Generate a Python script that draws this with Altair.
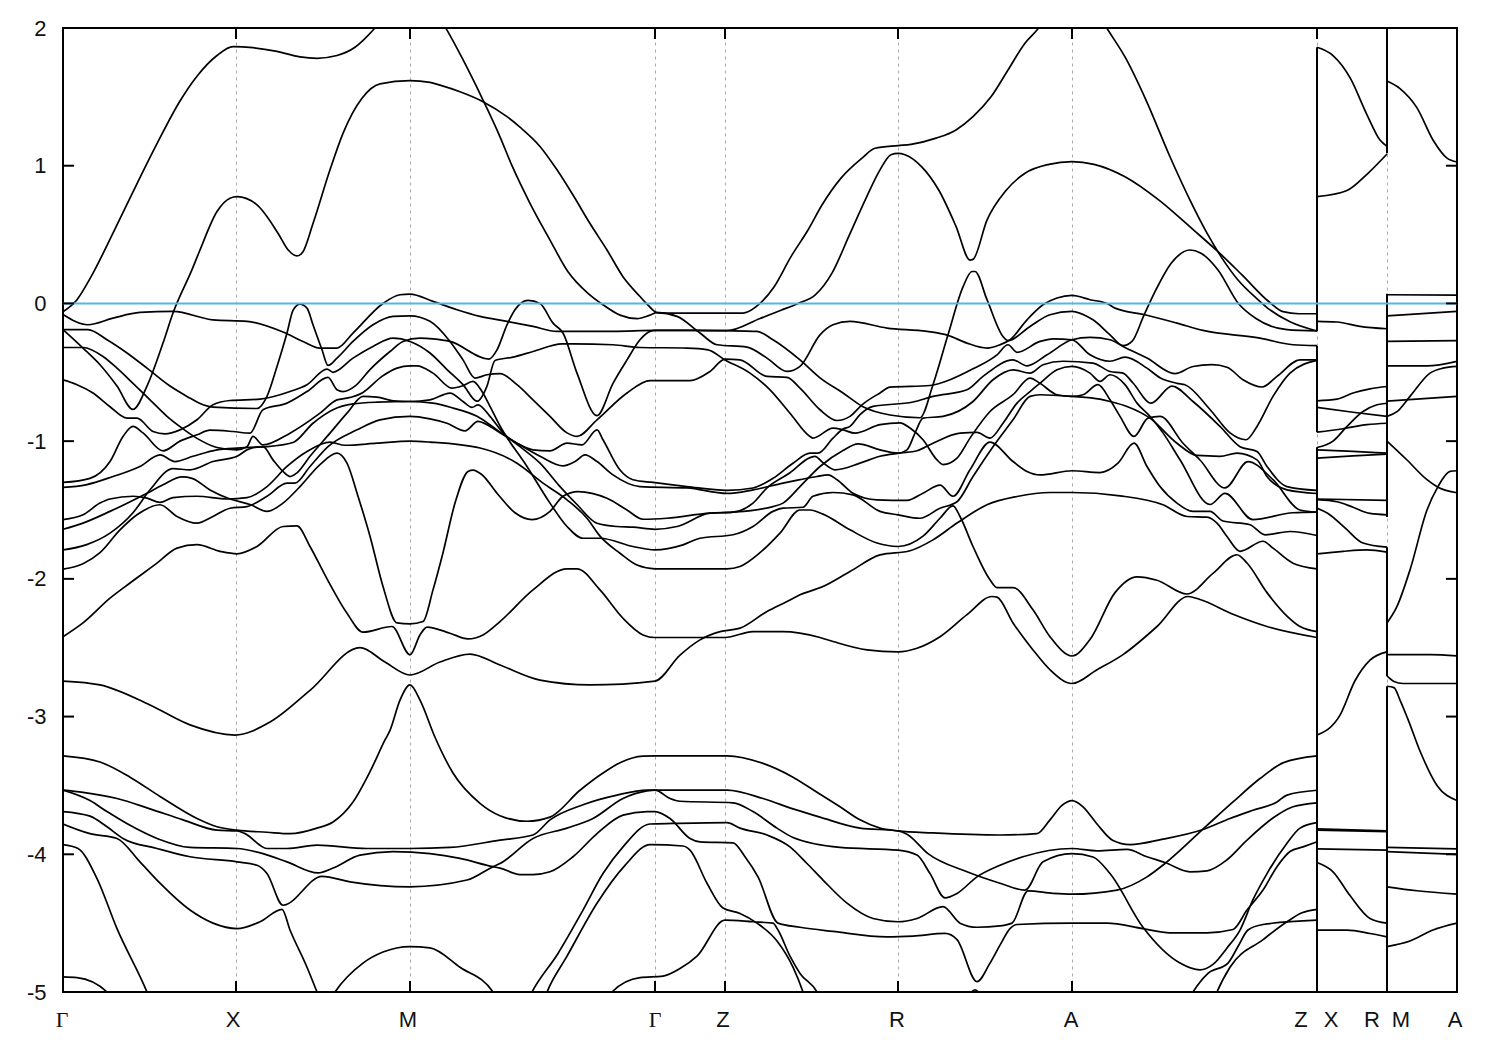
import altair as alt
import pandas as pd

# k = distance along the path, E = energy
band_a = [(0,-.06),(14,.027),(27,.18),(50,.51),(70,.81),(94,1.16),(117,1.47),(134,1.65),(154,1.80),(170,1.865),(190,1.857),(214,1.83),(237,1.79),(254,1.78),(274,1.80),(292,1.86),(312,2.0),(347,2.35),(384,1.985),(400,1.77),(420,1.477),(437,1.21),(449,1.0),(467,.727),(487,.46),(505,.23),(525,.073),(540,-.01),(557,-.085),(574,-.11),(587,-.085),(594,-.067),(614,-.094),(637,-.215),(654,-.30),(684,-.317),(704,-.397),(724,-.494),(737,-.457),(757,-.228),(770,-.155),(787,-.131),(824,-.179),(864,-.203),(885,-.232),(904,-.288),(924,-.324),(937,-.30),(947,-.264),(964,-.119),(980,-.01),(994,.039),(1009,.058),(1027,.027),(1044,0),(1052,-.034),(1082,-.082),(1114,-.143),(1140,-.196),(1197,-.252),(1230,-.30),(1254,-.307)]
band_b = [(0,-.19),(20,-.324),(37,-.445),(54,-.60),(70,-.77),(84,-.60),(100,-.288),(110,-.07),(129,.245),(137,.388),(154,.667),(167,.764),(174,.775),(194,.716),(215,.51),(225,.39),(234,.345),(240,.376),(250,.58),(267,.97),(280,1.235),(299,1.49),(317,1.594),(347,1.618),(367,1.605),(377,1.585),(397,1.537),(420,1.465),(444,1.356),(457,1.28),(477,1.14),(494,.97),(510,.787),(527,.58),(544,.388),(560,.194),(577,.05),(585,-.012),(594,-.067),(604,-.07),(680,-.07),(697,0),(711,.12),(728,.34),(745,.533),(759,.715),(778,.91),(799,1.055),(812,1.127),(835,1.146),(848,1.155),(873,1.2),(893,1.26),(910,1.356),(928,1.5),(945,1.695),(962,1.89),(974,1.985),(1009,2.4),(1045,1.985),(1062,1.79),(1083,1.477),(1107,1.065),(1127,.75),(1144,.51),(1158,.34),(1175,.17),(1193,.04),(1204,-.03),(1227,-.133),(1254,-.20)]
band_c = [(0,-.08),(25,-.155),(50,-.107),(77,-.065),(110,-.058),(150,-.119),(184,-.13),(220,-.208),(240,-.276),(257,-.324),(274,-.324),(290,-.215),(320,0),(337,.063),(347,.068),(370,.015),(394,-.046),(417,-.094),(444,-.13),(470,-.167),(494,-.203),(550,-.203),(592,-.196),(630,-.196),(664,-.198),(697,-.11),(718,-.05),(735,0),(752,.06),(769,.22),(786,.49),(804,.78),(817,.97),(828,1.08),(835,1.09),(842,1.08),(859,.99),(876,.82),(893,.56),(907,.315),(910,.32),(924,.605),(943,.82),(962,.945),(986,1.01),(1009,1.03),(1031,1.01),(1062,.92),(1096,.75),(1131,.53),(1155,.376),(1179,.207),(1206,.012),(1220,-.06),(1236,-.075),(1254,-.075)]
band_d = [(0,-.19),(25,-.19),(44,-.264),(64,-.36),(84,-.47),(107,-.60),(124,-.675),(140,-.736),(150,-.753),(194,-.763),(204,-.675),(214,-.458),(224,-.215),(230,-.05),(237,-.005),(244,-.034),(250,-.155),(259,-.336),(265,-.45),(274,-.397),(290,-.276),(310,-.155),(330,-.094),(347,-.09),(367,-.13),(387,-.276),(400,-.41),(412,-.542),(424,-.518),(437,-.51),(454,-.59),(470,-.70),(487,-.82),(504,-.94),(514,-.966),(534,-.845),(564,-.65),(587,-.56),(627,-.56),(647,-.494),(662,-.404),(677,-.41),(704,-.53),(724,-.537),(737,-.615),(757,-.772),(774,-.85),(787,-.82),(799,-.736),(817,-.65),(827,-.608),(867,-.596),(887,-.554),(910,-.475),(934,-.373),(945,-.30),(954,-.355),(977,-.276),(990,-.257),(1009,-.264),(1027,-.373),(1047,-.42),(1062,-.39),(1084,-.47),(1097,-.54),(1114,-.58),(1122,-.59),(1147,-.77),(1167,-.94),(1183,-.99),(1194,-.893),(1210,-.675),(1227,-.506),(1254,-.414)]
band_e = [(0,-.32),(20,-.32),(40,-.385),(54,-.47),(70,-.58),(87,-.70),(104,-.82),(117,-.895),(134,-.98),(154,-1.046),(174,-1.063),(184,-1.04),(190,-.966),(200,-1.027),(227,-.942),(257,-.797),(274,-.70),(284,-.688),(300,-.646),(319,-.53),(334,-.47),(347,-.453),(354,-.453),(370,-.506),(389,-.615),(399,-.60),(410,-.566),(419,-.64),(427,-.748),(437,-.89),(464,-1.184),(487,-1.45),(504,-1.62),(520,-1.705),(537,-1.705),(570,-1.765),(592,-1.79),(620,-1.753),(637,-1.705),(670,-1.68),(690,-1.62),(710,-1.51),(720,-1.487),(740,-1.48),(750,-1.40),(770,-1.373),(790,-1.39),(817,-1.51),(835,-1.535),(857,-1.56),(877,-1.487),(894,-1.44),(910,-1.257),(930,-1.04),(950,-.845),(967,-.675),(977,-.663),(1009,-.675),(1037,-.695),(1047,-.712),(1064,-.748),(1087,-.833),(1114,-1.015),(1134,-1.104),(1157,-1.11),(1174,-1.087),(1194,-1.136),(1204,-1.257),(1224,-1.354),(1254,-1.38)]
band_f = [(0,-.555),(14,-.59),(30,-.65),(47,-.75),(64,-.833),(74,-.833),(90,-.93),(102,-.947),(117,-.918),(134,-.845),(150,-.736),(167,-.705),(197,-.695),(227,-.64),(244,-.59),(264,-.477),(270,-.50),(290,-.397),(310,-.312),(330,-.252),(347,-.276),(367,-.36),(384,-.48),(400,-.59),(414,-.71),(424,-.60),(432,-.414),(450,-.39),(470,-.349),(499,-.293),(510,-.293),(550,-.30),(577,-.32),(624,-.324),(645,-.337),(662,-.41),(687,-.506),(707,-.627),(727,-.797),(747,-.966),(750,-.978),(770,-.906),(780,-.918),(792,-.942),(817,-.88),(837,-.867),(847,-.905),(860,-.99),(874,-1.136),(880,-1.17),(894,-1.123),(907,-.978),(927,-.785),(950,-.663),(967,-.542),(977,-.58),(994,-.663),(1009,-.675),(1020,-.663),(1035,-.59),(1047,-.70),(1057,-.82),(1071,-.966),(1085,-.833),(1097,-.82),(1120,-1.015),(1137,-1.137),(1162,-1.34),(1185,-1.148),(1210,-1.28),(1237,-1.50),(1254,-1.516)]
band_g = [(0,-1.30),(27,-1.27),(47,-1.148),(60,-.966),(70,-.893),(80,-.94),(100,-1.07),(117,-1.0),(134,-.954),(147,-.92),(170,-.93),(187,-.942),(200,-.772),(224,-.724),(244,-.64),(265,-.537),(274,-.627),(280,-.64),(292,-.60),(307,-.48),(327,-.349),(340,-.276),(357,-.252),(370,-.257),(387,-.276),(426,-.404),(434,-.337),(444,-.155),(452,-.046),(465,.022),(477,0),(490,-.143),(500,-.215),(514,-.506),(534,-.814),(550,-.58),(564,-.41),(577,-.264),(587,-.203),(592,-.196),(630,-.196),(664,-.198),(694,-.203),(710,-.264),(737,-.41),(757,-.54),(780,-.65),(800,-.75),(827,-.81),(857,-.83),(870,-.59),(885,-.228),(900,.12),(909,.232),(912,.232),(924,.027),(940,-.24),(945,-.27),(967,-.167),(987,-.082),(1009,-.058),(1027,-.106),(1030,-.119),(1047,-.228),(1060,-.307),(1069,-.276),(1081,-.085),(1093,.1),(1108,.29),(1127,.388),(1138,.364),(1155,.243),(1175,.003),(1193,-.11),(1224,-.19),(1254,-.20)]
band_h = [(0,-1.336),(23,-1.317),(50,-1.257),(77,-1.184),(97,-1.10),(112,-1.148),(130,-1.11),(154,-1.063),(174,-1.05),(184,-1.046),(204,-1.04),(230,-1.01),(250,-.87),(270,-.772),(290,-.73),(314,-.717),(347,-.712),(370,-.724),(390,-.76),(414,-.82),(434,-.918),(454,-1.015),(470,-1.063),(487,-1.07),(504,-1.015),(519,-1.027),(534,-.918),(540,-.99),(557,-1.21),(570,-1.28),(590,-1.30),(624,-1.33),(664,-1.358),(690,-1.34),(710,-1.27),(730,-1.16),(747,-1.087),(755,-1.087),(770,-.978),(780,-.912),(787,-.893),(797,-.808),(810,-.748),(850,-.716),(870,-.675),(904,-.627),(920,-.53),(950,-.41),(964,-.453),(984,-.373),(1009,-.264),(1027,-.247),(1047,-.264),(1060,-.312),(1084,-.397),(1112,-.51),(1130,-.458),(1149,-.445),(1164,-.463),(1180,-.554),(1199,-.607),(1214,-.53),(1237,-.41),(1254,-.41)]
band_i = [(0,-1.79),(23,-1.753),(47,-1.668),(70,-1.52),(87,-1.353),(110,-1.20),(127,-1.208),(150,-1.148),(174,-1.11),(185,-1.06),(200,-1.04),(210,-1.136),(220,-1.22),(227,-1.257),(234,-1.23),(247,-1.11),(267,-.942),(284,-.797),(300,-.675),(314,-.68),(330,-.707),(347,-.712),(367,-.70),(387,-.651),(400,-.712),(409,-.755),(415,-.736),(427,-.82),(440,-.94),(457,-1.04),(477,-1.16),(497,-1.33),(514,-1.46),(534,-1.596),(554,-1.62),(570,-1.625),(592,-1.64),(614,-1.62),(647,-1.523),(670,-1.516),(710,-1.475),(720,-1.45),(737,-1.33),(757,-1.184),(780,-1.068),(795,-1.02),(817,-1.063),(835,-1.087),(844,-1.063),(852,-.942),(860,-.833),(880,-.82),(910,-.712),(930,-.554),(950,-.482),(967,-.506),(980,-.445),(1000,-.42),(1030,-.433),(1047,-.494),(1060,-.506),(1070,-.578),(1088,-.724),(1109,-.60),(1130,-.712),(1157,-.893),(1177,-1.04),(1194,-1.075),(1204,-1.184),(1224,-1.33),(1254,-1.358)]
band_j = [(0,-1.64),(20,-1.595),(47,-1.51),(84,-1.378),(100,-1.317),(119,-1.26),(129,-1.27),(147,-1.354),(167,-1.42),(187,-1.46),(204,-1.51),(220,-1.45),(237,-1.33),(257,-1.17),(274,-1.087),(284,-1.16),(295,-1.40),(307,-1.69),(320,-2.055),(334,-2.32),(347,-2.327),(360,-2.31),(370,-2.08),(380,-1.81),(392,-1.45),(405,-1.22),(410,-1.21),(419,-1.244),(434,-1.378),(452,-1.52),(469,-1.57),(487,-1.51),(500,-1.40),(515,-1.366),(544,-1.415),(564,-1.50),(580,-1.567),(604,-1.56),(647,-1.523),(670,-1.516),(690,-1.45),(704,-1.34),(727,-1.23),(747,-1.12),(752,-1.11),(760,-1.157),(772,-1.208),(797,-1.16),(817,-1.11),(837,-1.087),(854,-1.07),(870,-1.015),(897,-.942),(914,-.937),(927,-.978),(940,-.87),(954,-.724),(967,-.64),(977,-.58),(994,-.482),(1009,-.457),(1027,-.506),(1037,-.566),(1047,-.518),(1062,-.59),(1074,-.724),(1087,-.82),(1100,-.94),(1117,-1.135),(1147,-1.46),(1162,-1.38),(1190,-1.57),(1230,-1.52),(1254,-1.516)]
band_k = [(0,-1.57),(20,-1.535),(37,-1.45),(47,-1.42),(70,-1.40),(84,-1.414),(97,-1.445),(110,-1.41),(134,-1.40),(164,-1.42),(184,-1.41),(204,-1.33),(224,-1.184),(244,-1.075),(267,-1.007),(282,-1.03),(314,-1.015),(347,-1.0),(367,-1.007),(417,-1.05),(454,-1.16),(480,-1.305),(504,-1.426),(524,-1.56),(537,-1.69),(557,-1.814),(574,-1.90),(592,-1.927),(664,-1.927),(677,-1.91),(697,-1.81),(717,-1.668),(737,-1.50),(747,-1.50),(760,-1.53),(787,-1.644),(814,-1.74),(835,-1.765),(860,-1.69),(877,-1.56),(890,-1.47),(897,-1.547),(910,-1.765),(927,-2.007),(934,-2.063),(950,-2.063),(970,-2.225),(987,-2.42),(1009,-2.56),(1027,-2.44),(1052,-2.10),(1074,-1.985),(1094,-2.01),(1124,-2.11),(1150,-1.96),(1174,-1.825),(1184,-1.885),(1204,-2.10),(1224,-2.27),(1237,-2.346),(1254,-2.383)]
band_l = [(0,-1.93),(20,-1.89),(37,-1.81),(57,-1.645),(74,-1.535),(97,-1.462),(114,-1.547),(134,-1.596),(150,-1.547),(167,-1.487),(184,-1.475),(204,-1.40),(224,-1.305),(232,-1.305),(247,-1.184),(265,-1.04),(294,-.918),(317,-.845),(347,-.82),(367,-.838),(384,-.87),(402,-.925),(415,-.857),(424,-.88),(437,-.94),(454,-1.015),(477,-1.11),(500,-1.18),(512,-1.148),(522,-1.10),(534,-1.148),(550,-1.245),(577,-1.33),(624,-1.34),(664,-1.38),(690,-1.354),(720,-1.305),(737,-1.28),(754,-1.257),(765,-1.245),(774,-1.28),(790,-1.378),(814,-1.426),(844,-1.43),(860,-1.378),(877,-1.32),(890,-1.40),(907,-1.208),(927,-1.007),(950,-1.148),(964,-1.22),(977,-1.245),(1009,-1.215),(1037,-1.228),(1055,-1.16),(1071,-1.015),(1084,-1.184),(1097,-1.33),(1114,-1.45),(1130,-1.51),(1147,-1.51),(1160,-1.58),(1187,-1.607),(1202,-1.68),(1227,-1.656),(1254,-1.685)]
band_m = [(0,-2.42),(20,-2.32),(47,-2.14),(67,-2.03),(94,-1.886),(114,-1.777),(134,-1.752),(157,-1.80),(174,-1.818),(194,-1.765),(220,-1.62),(234,-1.615),(247,-1.765),(264,-2.0),(284,-2.25),(300,-2.387),(329,-2.346),(347,-2.552),(357,-2.407),(364,-2.35),(387,-2.395),(405,-2.436),(420,-2.407),(437,-2.31),(470,-2.08),(504,-1.927),(514,-1.927),(537,-2.08),(560,-2.286),(580,-2.407),(592,-2.426),(637,-2.426),(662,-2.426),(690,-2.383),(720,-2.383),(757,-2.426),(770,-2.455),(804,-2.516),(835,-2.53),(854,-2.504),(877,-2.42),(904,-2.26),(929,-2.128),(934,-2.133),(950,-2.32),(970,-2.516),(987,-2.66),(1009,-2.76),(1034,-2.66),(1060,-2.55),(1094,-2.346),(1125,-2.128),(1137,-2.15),(1170,-2.257),(1204,-2.346),(1254,-2.426)]
band_n = [(0,-2.742),(37,-2.77),(87,-2.916),(127,-3.06),(172,-3.134),(207,-3.04),(247,-2.81),(297,-2.50),(322,-2.604),(347,-2.698),(377,-2.604),(407,-2.546),(437,-2.626),(477,-2.735),(527,-2.77),(592,-2.742),(617,-2.554),(637,-2.443),(657,-2.383),(677,-2.358),(704,-2.237),(724,-2.165),(737,-2.116),(760,-2.056),(787,-1.947),(817,-1.826),(847,-1.796),(870,-1.717),(894,-1.595),(924,-1.462),(954,-1.402),(987,-1.373),(1009,-1.373),(1057,-1.397),(1100,-1.462),(1124,-1.547),(1144,-1.552),(1154,-1.596),(1164,-1.693),(1177,-1.80),(1200,-1.727),(1210,-1.777),(1230,-1.886),(1254,-1.927)]
band_o = [(0,-3.285),(37,-3.33),(67,-3.44),(97,-3.58),(134,-3.74),(154,-3.80),(174,-3.825),(204,-3.84),(227,-3.85),(254,-3.81),(270,-3.765),(290,-3.62),(307,-3.40),(322,-3.17),(327,-3.10),(337,-2.88),(347,-2.77),(357,-2.88),(372,-3.15),(390,-3.41),(417,-3.63),(437,-3.72),(464,-3.76),(487,-3.73),(517,-3.535),(540,-3.41),(557,-3.335),(580,-3.287),(592,-3.285),(664,-3.285),(700,-3.34),(730,-3.44),(754,-3.55),(777,-3.655),(797,-3.75),(817,-3.81),(835,-3.83),(870,-3.845),(937,-3.86),(974,-3.85),(987,-3.75),(999,-3.645),(1009,-3.61),(1020,-3.655),(1034,-3.78),(1050,-3.90),(1067,-3.93),(1100,-3.89),(1140,-3.82),(1167,-3.74),(1190,-3.68),(1214,-3.62),(1224,-3.57),(1254,-3.535)]
band_p = [(0,-3.534),(20,-3.55),(54,-3.595),(87,-3.67),(120,-3.75),(154,-3.825),(174,-3.83),(182,-3.85),(204,-3.958),(224,-3.958),(254,-3.934),(304,-3.958),(347,-3.958),(387,-3.95),(437,-3.897),(470,-3.86),(487,-3.75),(520,-3.64),(554,-3.57),(584,-3.534),(592,-3.534),(664,-3.534),(700,-3.595),(730,-3.67),(757,-3.73),(797,-3.81),(835,-3.83),(844,-3.854),(865,-3.995),(904,-4.127),(937,-4.21),(962,-4.26),(980,-4.055),(1009,-3.995),(1030,-4.02),(1047,-4.14),(1080,-4.53),(1117,-4.79),(1137,-4.84),(1150,-4.80),(1164,-4.68),(1177,-4.55),(1190,-4.33),(1204,-4.14),(1224,-3.92),(1237,-3.81),(1254,-3.77)]
band_q = [(0,-3.534),(27,-3.61),(44,-3.69),(67,-3.79),(94,-3.885),(127,-3.95),(174,-3.958),(200,-3.995),(224,-4.055),(255,-4.135),(270,-4.10),(297,-4.006),(330,-3.98),(367,-3.995),(397,-4.03),(430,-4.09),(437,-4.10),(457,-4.147),(470,-4.147),(487,-4.127),(510,-4.018),(534,-3.85),(560,-3.716),(584,-3.69),(592,-3.69),(607,-3.74),(627,-3.885),(637,-3.91),(670,-3.917),(682,-4.018),(695,-4.164),(715,-4.50),(737,-4.53),(770,-4.56),(824,-4.60),(850,-4.594),(882,-4.575),(894,-4.62),(914,-4.925),(927,-4.79),(937,-4.66),(947,-4.54),(954,-4.51),(1009,-4.50),(1044,-4.50),(1080,-4.54),(1107,-4.57),(1144,-4.57),(1170,-4.546),(1184,-4.405),(1200,-4.26),(1214,-4.09),(1227,-3.98),(1240,-3.946),(1254,-3.91)]
band_r = [(0,-3.69),(27,-3.723),(44,-3.80),(60,-3.885),(94,-3.958),(127,-4.018),(174,-4.055),(194,-4.08),(204,-4.14),(220,-4.37),(259,-4.16),(287,-4.2),(347,-4.236),(404,-4.187),(430,-4.09),(437,-4.067),(470,-3.885),(504,-3.81),(530,-3.74),(560,-3.595),(584,-3.54),(592,-3.534),(607,-3.595),(617,-3.615),(670,-3.626),(690,-3.69),(714,-3.81),(730,-3.878),(777,-3.95),(835,-3.97),(854,-4.006),(867,-4.14),(882,-4.316),(894,-4.284),(914,-4.164),(937,-4.08),(960,-4.018),(1009,-3.958),(1034,-3.975),(1064,-3.965),(1084,-4.018),(1102,-4.06),(1127,-4.127),(1144,-4.12),(1164,-4.04),(1184,-3.897),(1214,-3.716),(1230,-3.655),(1254,-3.626)]
band_s = [(0,-3.78),(27,-3.85),(54,-3.885),(77,-4.055),(97,-4.21),(127,-4.405),(150,-4.50),(174,-4.54),(197,-4.49),(219,-4.40),(227,-4.55),(244,-4.82),(254,-5.0),(270,-5.3)]
band_t = [(0,-3.93),(15,-3.958),(34,-4.176),(54,-4.54),(84,-5.0),(100,-5.3)]
band_u = [(0,-4.89),(14,-4.895),(44,-5.0),(60,-5.2)]
band_v = [(250,-5.3),(272,-5.0),(300,-4.79),(320,-4.71),(347,-4.67),(367,-4.68),(397,-4.82),(430,-5.0),(450,-5.3)]
band_w = [(450,-5.3),(469,-5.0),(495,-4.72),(520,-4.405),(540,-4.14),(560,-3.946),(587,-3.78),(610,-3.776),(664,-3.77),(677,-3.81),(704,-3.86),(727,-3.946),(744,-4.067),(760,-4.187),(784,-4.355),(810,-4.466),(835,-4.49),(854,-4.466),(880,-4.38),(897,-4.50),(914,-4.53),(937,-4.52),(949,-4.50),(965,-4.265),(990,-4.284),(1009,-4.29),(1054,-4.26),(1084,-4.164),(1102,-4.067),(1144,-3.79),(1170,-3.62),(1197,-3.45),(1220,-3.336),(1254,-3.285)]
band_x = [(470,-5.3),(484,-5.0),(504,-4.74),(534,-4.355),(562,-4.08),(587,-3.93),(620,-3.94),(627,-3.97),(644,-4.21),(660,-4.39),(677,-4.43),(694,-4.50),(714,-4.63),(730,-4.82),(740,-5.0),(752,-5.3)]
band_y = [(530,-5.2),(549,-5.0),(577,-4.895),(600,-4.885),(617,-4.83),(634,-4.74),(662,-4.478),(690,-4.49),(710,-4.50),(715,-4.55),(727,-4.74),(737,-4.865),(754,-5.0),(770,-5.3)]
band_z = [(905,-5.03),(912,-4.985),(919,-5.03)]
band_aa = [(1115,-5.2),(1130,-5.0),(1145,-4.865),(1165,-4.79),(1175,-4.67),(1185,-4.55),(1200,-4.51),(1254,-4.478)]
band_ab = [(1140,-5.3),(1154,-5.0),(1167,-4.82),(1200,-4.62),(1224,-4.49),(1239,-4.425),(1254,-4.40)]

# X to R
xr_bands = [
 [(1254,1.86),(1270,1.80),(1287,1.64),(1304,1.37),(1317,1.186),(1324,1.14)],
 [(1254,.775),(1284,.82),(1305,.945),(1324,1.085)],
 [(1254,-.13),(1274,-.135),(1297,-.166),(1324,-.184)],
 [(1254,-.707),(1274,-.695),(1290,-.65),(1307,-.62),(1324,-.603)],
 [(1254,-.755),(1290,-.79),(1324,-.82)],
 [(1254,-.935),(1280,-.91),(1304,-.88),(1324,-.87)],
 [(1254,-1.046),(1270,-1.0),(1284,-.893),(1300,-.785),(1314,-.736),(1324,-.725)],
 [(1254,-1.063),(1290,-1.075),(1324,-1.087)],
 [(1254,-1.123),(1290,-1.107),(1324,-1.094)],
 [(1254,-1.42),(1324,-1.43)],
 [(1254,-1.425),(1274,-1.44),(1290,-1.48),(1307,-1.525),(1324,-1.535)],
 [(1254,-1.487),(1265,-1.525),(1282,-1.63),(1300,-1.74),(1324,-1.77)],
 [(1254,-1.818),(1280,-1.80),(1304,-1.79),(1324,-1.806)],
 [(1254,-3.134),(1277,-2.99),(1292,-2.74),(1307,-2.59),(1324,-2.53)],
 [(1254,-3.815),(1324,-3.83)],
 [(1254,-3.825),(1324,-3.835)],
 [(1254,-3.96),(1324,-3.97)],
 [(1254,-4.06),(1270,-4.127),(1287,-4.30),(1307,-4.466),(1324,-4.50)],
 [(1254,-4.55),(1284,-4.55),(1307,-4.575),(1324,-4.60)],
]
# M to A
ma_bands = [
 [(1324,1.615),(1337,1.56),(1354,1.42),(1370,1.187),(1384,1.055),(1394,1.027)],
 [(1324,.063),(1394,.06)],
 [(1324,-.09),(1394,-.058)],
 [(1324,-.276),(1394,-.27)],
 [(1324,-.453),(1364,-.453),(1394,-.42)],
 [(1324,-.71),(1394,-.675)],
 [(1324,-.82),(1334,-.786),(1347,-.675),(1367,-.506),(1380,-.47),(1394,-.457)],
 [(1324,-1.0),(1344,-1.137),(1364,-1.28),(1375,-1.335),(1394,-1.375)],
 [(1324,-2.32),(1334,-2.2),(1347,-1.935),(1364,-1.50),(1375,-1.33),(1387,-1.22),(1394,-1.215)],
 [(1324,-2.55),(1367,-2.55),(1394,-2.56)],
 [(1324,-2.705),(1331,-2.745),(1340,-2.76),(1394,-2.76)],
 [(1324,-2.78),(1331,-2.79),(1337,-2.88),(1345,-3.02),(1357,-3.25),(1374,-3.5),(1394,-3.61)],
 [(1324,-3.95),(1394,-3.96)],
 [(1324,-3.98),(1394,-4.0)],
 [(1324,-4.236),(1354,-4.265),(1394,-4.29)],
 [(1324,-4.67),(1347,-4.63),(1370,-4.55),(1394,-4.50)],
]
# jumps between the path pieces
jump_k = [1254,1254,1254,1254,1324,1324,1324,1324]
jump_top = [2,1.86,-.31,-1.045,2,.07,-1.77,-2.78]
jump_bottom = [1.93,-.2,-.935,-5,1.09,-1.55,-2.705,-5]

point_k = [173,347,592,662,835,1009,1254,1324]
energy_ticks = [-5,-4,-3,-2,-1,0,1,2]
sym_text = ["\u0393","X","M","\u0393","Z","R","A","Z","X","R","M","A"]
sym_k = [-1,170,345,592,660,834,1008,1238,1268,1309,1338,1392]

main_bands = [band_a,band_b,band_c,band_d,band_e,band_f,band_g,band_h,band_i,band_j,band_k,band_l,band_m,band_n,band_o,band_p,band_q,band_r,band_s,band_t,band_u,band_v,band_w,band_x,band_y,band_z,band_aa,band_ab]
rows = []
for b, pts in enumerate(main_bands + xr_bands + ma_bands):
    for i, (k, e) in enumerate(pts):
        rows.append({"band": b, "i": i, "k": k, "E": e})
df = pd.DataFrame(rows)

FONT = "Liberation Sans"
X = alt.Scale(domain=[0,1394], nice=False, zero=False)
Y = alt.Scale(domain=[-5,2], nice=False, zero=False)
XAX = alt.Axis(values=point_k, labels=False, ticks=False, domain=False, grid=True,
               gridColor="#a8a8a8", gridWidth=1, gridDash=[3,4], title=None)
YAX = alt.Axis(values=energy_ticks, labelExpr="''+datum.value", ticks=False, domain=False, grid=False,
               labelFont=FONT, labelFontSize=22, labelColor="#111111", labelPadding=17, title=None)
def kx(f="k"):
    return alt.X(f + ":Q", scale=X, axis=XAX, title=None)
def ey(f="E"):
    return alt.Y(f + ":Q", scale=Y, axis=YAX, title=None)

lines = alt.Chart(df).mark_line(color="black", strokeWidth=1.7, interpolate="monotone", clip=True).encode(
    x=kx(), y=ey(), detail="band:N", order="i:Q")

jumps = alt.Chart(pd.DataFrame({"k":jump_k,"a":jump_top,"b":jump_bottom})).mark_rule(color="black", strokeWidth=2).encode(
    x=kx(), y=ey("a"), y2="b:Q")

zero = alt.Chart(pd.DataFrame({"E":[0]})).mark_rule(color="#56b4e9", strokeWidth=2).encode(y=ey())

et = pd.DataFrame({"E":energy_ticks[1:-1]})
ptk = pd.DataFrame({"k":point_k})
ltick = alt.Chart(et).mark_rule(color="black", strokeWidth=2).encode(y=ey(), x=alt.value(0), x2=alt.value(11))
rtick = alt.Chart(et).mark_rule(color="black", strokeWidth=2).encode(y=ey(), x=alt.value(1383), x2=alt.value(1394))
btick = alt.Chart(ptk).mark_rule(color="black", strokeWidth=2).encode(x=kx(), y=alt.value(953), y2=alt.value(964))
ttick = alt.Chart(ptk).mark_rule(color="black", strokeWidth=2).encode(x=kx(), y=alt.value(0), y2=alt.value(11))

sym = pd.DataFrame({"k":sym_k,"t":sym_text})
sans = alt.Chart(sym[sym.t!="\u0393"]).mark_text(font=FONT, fontSize=22, color="#111111", baseline="alphabetic", align="center").encode(
    x=kx(), y=alt.value(999), text="t:N")
serif = alt.Chart(sym[sym.t=="\u0393"]).mark_text(font="Liberation Serif", fontSize=22, color="#111111", baseline="alphabetic", align="center").encode(
    x=kx(), y=alt.value(999), text="t:N")

chart = alt.layer(lines, jumps, zero, ltick, rtick, btick, ttick, sans, serif).properties(
    width=1394, height=964,
    background="white",
    autosize=alt.AutoSizeParams(type="none"),
    padding={"left":55,"top":20,"right":30,"bottom":50},
).configure_view(stroke="black", strokeWidth=2)

chart.save("out.html", embed_options={"renderer": "svg", "actions": False})
